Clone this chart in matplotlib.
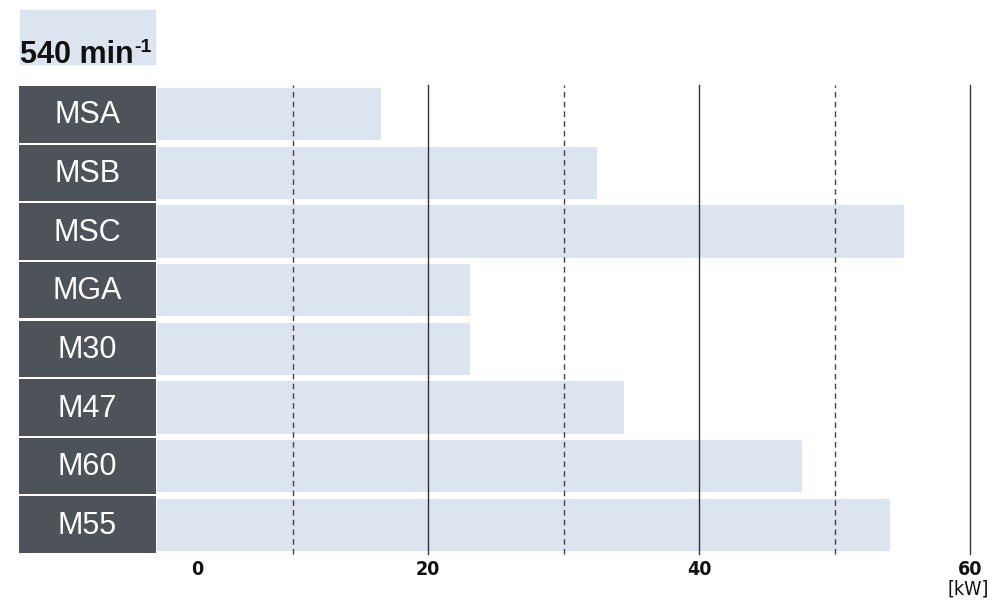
import matplotlib.pyplot as plt
from matplotlib.patches import Rectangle

models = ["MSA", "MSB", "MSC", "MGA", "M30", "M47", "M60", "M55"]
power_kw = [16.5, 32.5, 55.1, 23.1, 23.1, 34.5, 47.6, 54.1]
major_ticks = [0, 20, 40, 60]
minor_ticks = [10, 30, 50]
title = "540 min"
title_sup = "-1"
unit = "[kW]"

plt.rcParams["font.family"] = ["Liberation Sans", "DejaVu Sans"]

bar_color = "#dce4f0"
box_color = "#4d5358"

W, H = 1000, 605


def box(l, t, r, b):
    # pixel box -> figure fraction
    return [l / W, 1 - b / H, (r - l) / W, (b - t) / H]


fig = plt.figure(figsize=(10, 6.05), dpi=100)

ax = fig.add_axes(box(157, 85, 970, 554))
n = len(models)
ypos = list(range(n))
ax.barh(ypos, power_kw, height=0.89, color=bar_color, zorder=1)
ax.set_xlim(0, 60)
ax.set_ylim(n - 0.5, -0.5)
for v in minor_ticks:
    ax.axvline(v, color="#444444", lw=1, ls=(0, (4, 3)), zorder=2, clip_on=False)
for v in major_ticks[1:]:
    ax.axvline(v, color="#333333", lw=1, zorder=2, clip_on=False)
ax.set_xticks([])
ax.set_yticks([])
for s in ax.spines.values():
    s.set_visible(False)

for v in major_ticks:
    dx = 28.8 if v == 0 else 0
    ax.annotate(str(v), xy=(v, 0), xycoords=("data", "axes fraction"),
                xytext=(dx, -11.5), textcoords="offset points",
                ha="center", va="center", fontsize=14, fontweight="bold",
                family="DejaVu Sans", fontstretch="condensed", color="#111111")
ax.annotate(unit, xy=(60, 0), xycoords=("data", "axes fraction"),
            xytext=(-1.5, -25), textcoords="offset points",
            ha="center", va="center", fontsize=14,
            family="DejaVu Sans", fontstretch="condensed", color="#111111")

# model label boxes on the left
lab = fig.add_axes(box(19, 85, 156, 554))
lab.barh(ypos, [1] * n, height=0.965, color=box_color)
lab.set_xlim(0, 1)
lab.set_ylim(n - 0.5, -0.5)
lab.axis("off")
for i, m in enumerate(models):
    lab.text(0.5, i + 0.02, m, ha="center", va="center", color="white", fontsize=22)

# title with light background
fig.patches.append(Rectangle((20 / W, 1 - 64 / H), 135 / W, 54 / H,
                             transform=fig.transFigure, color=bar_color, zorder=0))
t = fig.text(20 / W, 1 - 63 / H, title, ha="left", va="baseline",
             fontsize=22, fontweight="bold", color="#111111")
renderer = fig.canvas.get_renderer()
bb = t.get_window_extent(renderer)
fig.text((bb.x1 + 1) / W, 1 - 52 / H, title_sup, ha="left", va="baseline",
         fontsize=14, fontweight="bold", color="#111111")

fig.savefig("out.png", dpi=100)
